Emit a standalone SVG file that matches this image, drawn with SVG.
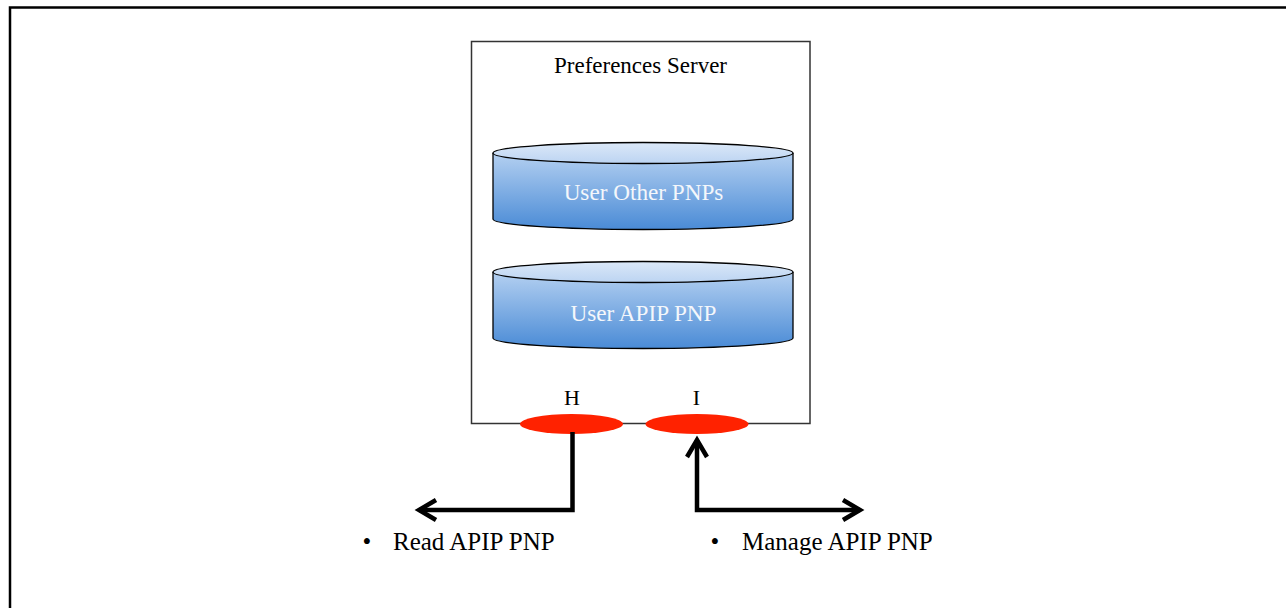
<svg xmlns="http://www.w3.org/2000/svg" width="1286" height="608" viewBox="0 0 1286 608">
<defs>
<style>
.t{font-family:"Liberation Serif","Times New Roman",serif;fill:#000;}
.w{font-family:"Liberation Serif","Times New Roman",serif;fill:#f4f7fb;font-size:23.2px;text-anchor:middle;}
.cyl{stroke:#000;stroke-width:1.3;}
.port{fill:#ff2200;stroke:none;}
.conn{fill:none;stroke:#000;stroke-width:4.5;stroke-linejoin:miter;}
</style>
<linearGradient id="body" x1="0" y1="0" x2="0" y2="1">
<stop offset="0" stop-color="#b4d0f1"/>
<stop offset="1" stop-color="#4a8bd6"/>
</linearGradient>
<linearGradient id="top" x1="0" y1="0" x2="0" y2="1">
<stop offset="0" stop-color="#dbe8f8"/>
<stop offset="1" stop-color="#bcd4f2"/>
</linearGradient>
</defs>
<rect width="1286" height="608" fill="#fff"/>
<path d="M10,608 V7.5 H1286" fill="none" stroke="#000" stroke-width="2.5"/>

<g id="server">
<rect x="471.5" y="41.5" width="338.5" height="382" fill="#fff" stroke="#333" stroke-width="1.5"/>
<text class="t" x="640.5" y="73" font-size="23" text-anchor="middle">Preferences Server</text>
</g>

<g id="db-other">
<path class="cyl" d="M493,153 V219 A150,10.5 0 0 0 793,219 V153" fill="url(#body)"/>
<ellipse class="cyl" cx="643" cy="153" rx="150" ry="10.5" fill="url(#top)"/>
<text class="w" x="643.5" y="200">User Other PNPs</text>
</g>

<g id="db-apip">
<path class="cyl" d="M493,272 V338 A150,10.5 0 0 0 793,338 V272" fill="url(#body)"/>
<ellipse class="cyl" cx="643" cy="272" rx="150" ry="10.5" fill="url(#top)"/>
<text class="w" x="643.5" y="320.5">User APIP PNP</text>
</g>

<g id="port-h">
<ellipse class="port" cx="571.5" cy="424" rx="51.5" ry="10"/>
<text class="t" x="572" y="405" font-size="22" text-anchor="middle">H</text>
</g>

<g id="port-i">
<ellipse class="port" cx="697" cy="424" rx="51.5" ry="10"/>
<text class="t" x="696.5" y="405" font-size="22" text-anchor="middle">I</text>
</g>

<g id="connectors">
<path class="conn" d="M572.5,432 V510 H419"/>
<path class="conn" d="M436,500 L419,510 L436,520"/>
<path class="conn" d="M697,440 V510 H860"/>
<path class="conn" d="M687,457 L697,440 L707,457"/>
<path class="conn" d="M843,500 L860,510 L843,520"/>
</g>

<g id="label-read">
<text class="t" x="367" y="550" font-size="25" text-anchor="middle">•</text>
<text class="t" x="393" y="550" font-size="25">Read APIP PNP</text>
</g>

<g id="label-manage">
<text class="t" x="715" y="550" font-size="25" text-anchor="middle">•</text>
<text class="t" x="742" y="550" font-size="25">Manage APIP PNP</text>
</g>
</svg>
